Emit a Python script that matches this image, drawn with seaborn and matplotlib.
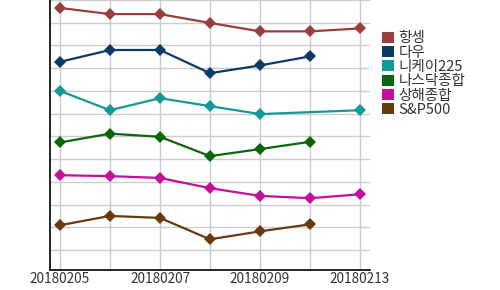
import numpy as np
import pandas as pd
import matplotlib
matplotlib.use("Agg")
import matplotlib.pyplot as plt
from matplotlib.patches import Patch
import seaborn as sns

dates = ["20180205", "20180206", "20180207", "20180208", "20180209", "20180212", "20180213"]
series_names = ["항셍", "다우", "니케이225", "나스닥종합", "상해종합", "S&P500"]
hangseng = [10.65, 10.38, 10.38, 9.99, 9.62, 9.62, 9.75]
dow = [8.28, 8.80, 8.80, 7.78, 8.12, 8.52, np.nan]
nikkei = [7.00, 6.15, 6.68, 6.33, 5.98, np.nan, 6.15]
nasdaq = [4.73, 5.12, 4.98, 4.13, 4.44, 4.76, np.nan]
shanghai = [3.29, 3.25, 3.17, 2.72, 2.38, 2.28, 2.45]
sp500 = [1.09, 1.50, 1.41, 0.47, 0.82, 1.13, np.nan]
colors = ["#993d3d", "#0b3a66", "#159898", "#0b660b", "#c40f9c", "#673a10"]
shown_ticks = ["20180205", "20180207", "20180209", "20180213"]

values = [hangseng, dow, nikkei, nasdaq, shanghai, sp500]
rows = []
for name, vals in zip(series_names, values):
    for i, v in enumerate(vals):
        rows.append({"idx": i, "value": v, "name": name})
df = pd.DataFrame(rows).dropna()

sns.set_style("white")
plt.rcParams["font.family"] = ["Noto Sans CJK KR", "DejaVu Sans"]

fig = plt.figure(figsize=(5, 2.9), dpi=100)
ax = fig.add_axes([0.1, 0.069, 0.64, 0.931])

palette = dict(zip(series_names, colors))
sns.lineplot(data=df, x="idx", y="value", hue="name", hue_order=series_names,
             palette=palette, marker="D", markersize=6, markeredgewidth=0,
             linewidth=1.6, legend=False, ax=ax, sort=True)

ax.set_xlim(-0.2, 6.2)
ax.set_ylim(-0.88, 11.0)
ax.set_yticks(range(0, 12))
ax.set_yticklabels([])
ax.set_xticks(range(len(dates)))
ax.set_xticklabels([d if d in shown_ticks else "" for d in dates], fontsize=9.8, color="#333333")
ax.tick_params(axis="both", length=0, pad=1.5)
ax.grid(True, color="#cccccc", linewidth=1)
ax.set_axisbelow(True)
ax.set_xlabel("")
ax.set_ylabel("")
for s in ["top", "right"]:
    ax.spines[s].set_visible(False)
for s in ["left", "bottom"]:
    ax.spines[s].set_color("black")
    ax.spines[s].set_linewidth(1.2)

handles = [Patch(facecolor=c, edgecolor="none") for c in colors]
fig.legend(handles, series_names, loc="upper left", bbox_to_anchor=(0.752, 0.912),
           frameon=False, prop={"size": 10.5}, handlelength=0.8, handleheight=0.8,
           handletextpad=0.35, labelspacing=0.02, borderaxespad=0, labelcolor="#333333")

fig.savefig("out.png", dpi=100)
